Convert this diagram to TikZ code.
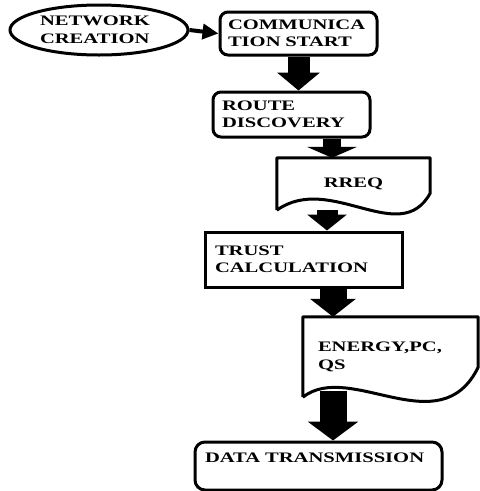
\documentclass[tikz,border=0pt]{standalone}
\usepackage{fontspec}
\setmainfont{Liberation Serif}[FakeStretch=1.42]
\usetikzlibrary{arrows.meta,shapes.geometric,calc}

\tikzset{
  flowfont/.style={font=\bfseries\fontsize{14.5}{17.5}\selectfont},
  roundbox/.style={draw,line width=3pt,rounded corners=8pt,flowfont,align=left,inner ysep=0pt},
  plainbox/.style={draw,line width=3pt,flowfont,align=left,inner ysep=0pt},
  docbox/.style={flowfont,align=left,inner ysep=0pt},
  docline/.style={line width=3pt,line join=round},
  flow/.style={line width=#1},
}

\begin{document}
\begin{tikzpicture}[x=1pt,y=-1pt]
  \useasboundingbox (0,0) rectangle (480,491);
  % boxes
  \node[draw,ellipse,line width=3pt,flowfont,align=left,inner sep=0pt,
        minimum width=178pt,minimum height=50pt,text width=118pt] (net) at (99,30) {NETWORK\\CREATION};
  \node[roundbox,inner xsep=8pt,text width=141pt,minimum height=43pt] (comm) at (298.5,33.5) {COMMUNICA\\TION START};
  \node[roundbox,inner xsep=9pt,text width=139pt,minimum height=45pt] (route) at (291.5,114.5) {ROUTE\\DISCOVERY};
  \node[docbox,minimum width=153pt,minimum height=52pt] (rreq) at (353.5,184) {RREQ};
  \node[plainbox,inner xsep=10pt,text width=177pt,minimum height=55pt] (trust) at (303.5,259.5) {TRUST\\CALCULATION};
  \node[docbox,inner xsep=15pt,text width=145pt,minimum height=80pt] (energy) at (390.5,357) {ENERGY,PC,\\QS};
  \node[roundbox,rounded corners=10pt,inner xsep=10pt,text width=227pt,minimum height=48pt,
        text height=10pt,text depth=18pt] (data) at (318.5,466) {DATA TRANSMISSION};
  % document outlines
  \draw[docline] (rreq.south west) -- (rreq.north west) -- (rreq.north east) -- ($(rreq.south east)+(0,-17)$)
    .. controls ($(rreq.south)+(46.5,38)$) and ($(rreq.south)+(-23.5,-38)$) .. (rreq.south west);
  \draw[docline] (energy.south west) -- (energy.north west) -- (energy.north east) -- ($(energy.south east)+(0,-30)$)
    .. controls ($(energy.south)+(49.5,48)$) and ($(energy.south)+(-40.5,-37)$) .. (energy.south west);
  % arrows
  \draw[flow=4pt,-{Triangle[width=15pt,length=16pt]}] (net.east) -- (comm.west);
  \draw[flow=22pt,-{Triangle[width=42pt,length=18pt]}] (comm.south) -- (comm.south |- route.north);
  \draw[flow=18pt,-{Triangle[width=50pt,length=11pt]}] (route.south -| 332,0) -- (rreq.north -| 332,0);
  \draw[flow=21pt,-{Triangle[width=39pt,length=16pt]}] (rreq.south -| 327,0) -- (trust.north -| 327,0);
  \draw[flow=27pt,-{Triangle[width=45pt,length=18pt]}] (trust.south -| 333,0) -- (energy.north -| 333,0);
  \draw[flow=27pt,-{Triangle[width=50pt,length=19pt]}] ($(energy.south -| 333,0)+(0,-6)$) -- (data.north -| 333,0);
\end{tikzpicture}
\end{document}
